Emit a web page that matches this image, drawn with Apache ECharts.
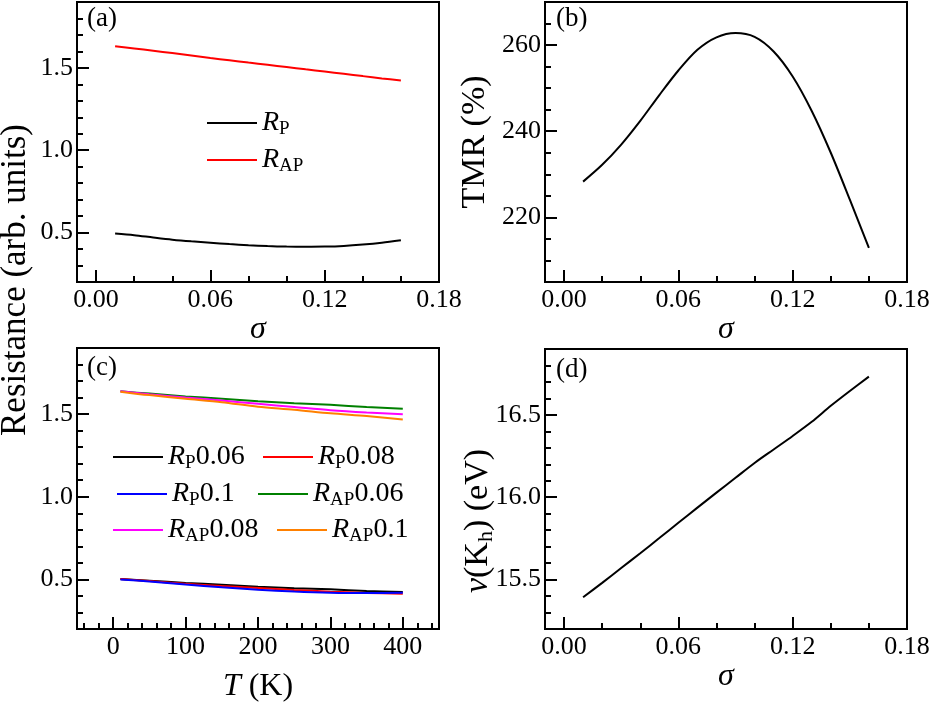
<!DOCTYPE html>
<html>
<head>
<meta charset="utf-8">
<script src="https://cdn.jsdelivr.net/npm/echarts@6/dist/echarts.min.js"></script>
<style>html,body{margin:0;padding:0;background:#fff;}#c{width:934px;height:705px;}</style>
</head>
<body>
<div id="c"></div>
<script>
// ---------- data ----------
const sigma = [0.01,0.02,0.03,0.04,0.05,0.06,0.07,0.08,0.09,0.10,0.11,0.12,0.13,0.14,0.15,0.16];
const rP_a  = [0.494,0.484,0.470,0.457,0.447,0.439,0.430,0.423,0.418,0.415,0.414,0.415,0.419,0.427,0.438,0.453];
const rAP_a = [1.632,1.618,1.604,1.590,1.575,1.560,1.546,1.532,1.519,1.505,1.491,1.478,1.464,1.450,1.436,1.423];
const tmr_b = [228.3,232.2,236.9,242.4,248.4,254.1,258.9,261.8,262.8,261.9,258.5,252.7,244.7,235.0,224.1,212.9];
const vKh_d = [15.393,15.48,15.57,15.66,15.752,15.845,15.937,16.028,16.118,16.208,16.29,16.372,16.458,16.555,16.645,16.732];

const temps = [10,50,100,150,200,250,300,350,400];
const rP006  = [0.502,0.492,0.479,0.468,0.456,0.447,0.440,0.430,0.424];
const rP008  = [0.502,0.490,0.474,0.460,0.448,0.436,0.426,0.418,0.413];
const rP010  = [0.500,0.487,0.469,0.452,0.438,0.427,0.420,0.418,0.419];
const rAP006 = [1.638,1.624,1.607,1.593,1.578,1.566,1.556,1.543,1.532];
const rAP008 = [1.638,1.620,1.600,1.582,1.562,1.543,1.524,1.510,1.499];
const rAP010 = [1.636,1.615,1.593,1.572,1.545,1.527,1.505,1.488,1.467];

// tick values
const sigmaTicks = [0, 0.06, 0.12, 0.18];
const sigmaMinor = [0.02, 0.04, 0.08, 0.10, 0.14, 0.16];
const resTicks = [0.5, 1.0, 1.5];
const resMinor = [0.3,0.4,0.6,0.7,0.8,0.9,1.1,1.2,1.3,1.4,1.6,1.7,1.8];
const tmrTicks = [220, 240, 260];
const tmrMinor = [210,215,225,230,235,245,250,255,265];
const tTicks = [0, 100, 200, 300, 400];
const tMinor = [-40,-20,20,40,60,80,120,140,160,180,220,240,260,280,320,340,360,380,420,440];
const vTicks = [15.5, 16.0, 16.5];
const vMinor = [15.3,15.4,15.6,15.7,15.8,15.9,16.1,16.2,16.3,16.4,16.6,16.7,16.8];

// legend texts
const legendNamesC = ['RP0.06','RP0.08','RP0.1','RAP0.06','RAP0.08','RAP0.1'];
const legendSubC   = ['P','P','P','AP','AP','AP'];
const legendNumC   = ['0.06','0.08','0.1','0.06','0.08','0.1'];
const colorsC      = ['#000000','#ff0000','#0000ff','#008000','#ff00ff','#ff8000'];

// ---------- helpers ----------
const FONT = "'Liberation Serif', 'Times New Roman', serif";
const TICK_FS = 26, NAME_FS = 32;

function xAxes(grid, min, max, majors, minors, fmt, name, nameGap, nameStyle) {
  return [{
    gridIndex: grid, type: 'value', min, max, position: 'bottom',
    axisLine: {show: true, onZero: false, lineStyle: {color: '#000', width: 2}},
    axisTick: {show: true, inside: true, length: 12, lineStyle: {color: '#000', width: 2}, customValues: majors},
    axisLabel: {show: true, customValues: majors, formatter: fmt, margin: 5, color: '#000', fontFamily: FONT, fontSize: TICK_FS},
    splitLine: {show: false},
    name, nameLocation: 'middle', nameGap,
    nameTextStyle: Object.assign({color: '#000', fontFamily: FONT, fontSize: NAME_FS}, nameStyle || {})
  }, {
    gridIndex: grid, type: 'value', min, max, position: 'bottom',
    axisLine: {show: false, onZero: false},
    axisTick: {show: true, inside: true, length: 6, lineStyle: {color: '#000', width: 2}, customValues: minors},
    axisLabel: {show: false}, splitLine: {show: false}
  }];
}
function yAxes(grid, min, max, majors, minors, fmt) {
  return [{
    gridIndex: grid, type: 'value', min, max, position: 'left',
    axisLine: {show: true, onZero: false, lineStyle: {color: '#000', width: 2}},
    axisTick: {show: true, inside: true, length: 12, lineStyle: {color: '#000', width: 2}, customValues: majors},
    axisLabel: {show: true, customValues: majors, formatter: fmt, margin: 4, color: '#000', fontFamily: FONT, fontSize: TICK_FS},
    splitLine: {show: false}
  }, {
    gridIndex: grid, type: 'value', min, max, position: 'left',
    axisLine: {show: false, onZero: false},
    axisTick: {show: true, inside: true, length: 6, lineStyle: {color: '#000', width: 2}, customValues: minors},
    axisLabel: {show: false}, splitLine: {show: false}
  }];
}
function zip(xs, ys) { return xs.map((x, i) => [x, ys[i]]); }
function lineSeries(name, grid, xs, ys, color) {
  return {
    name, type: 'line', xAxisIndex: grid * 2, yAxisIndex: grid * 2,
    data: zip(xs, ys), showSymbol: false, symbol: 'none', smooth: 0.3,
    lineStyle: {color, width: 2}, itemStyle: {color}, silent: true, animation: false
  };
}
const rich = {
  r: {fontFamily: FONT, fontStyle: 'italic', fontSize: 28, lineHeight: 32, color: '#000'},
  s: {fontFamily: FONT, fontSize: 19, lineHeight: 19, verticalAlign: 'bottom', color: '#000'},
  n: {fontFamily: FONT, fontSize: 28, lineHeight: 32, color: '#000'}
};
function legendItem(name, label, left, yc) {
  return {
    data: [name], left, top: yc - 16, padding: 0, itemWidth: 50, itemHeight: 2, icon: 'rect',
    selectedMode: false, itemGap: 0,
    textStyle: {fontFamily: FONT, fontSize: 28, color: '#000', rich},
    formatter: () => label
  };
}
const f2 = v => v.toFixed(2), f1 = v => v.toFixed(1), f0 = v => String(Math.round(v));

const grids = [
  {left: 77, top: 2, width: 362, height: 280},
  {left: 545, top: 2, width: 362, height: 280},
  {left: 77, top: 348, width: 362, height: 281},
  {left: 545, top: 349, width: 362, height: 280}
].map(g => Object.assign({show: true, borderColor: '#000', borderWidth: 2, backgroundColor: 'transparent', containLabel: false}, g));

const xAxis = [].concat(
  xAxes(0, -0.01, 0.18, sigmaTicks, sigmaMinor, f2, 'σ', 28, {fontStyle: 'italic'}),
  xAxes(1, -0.01, 0.18, sigmaTicks, sigmaMinor, f2, 'σ', 28, {fontStyle: 'italic'}),
  xAxes(2, -50, 450, tTicks, tMinor, f0, '{i|T} (K)', 42, {rich: {i: {fontStyle: 'italic', fontFamily: FONT, fontSize: NAME_FS}}}),
  xAxes(3, -0.01, 0.18, sigmaTicks, sigmaMinor, f2, 'σ', 32, {fontStyle: 'italic'})
);
const yAxis = [].concat(
  yAxes(0, 0.2, 1.9, resTicks, resMinor, f1),
  yAxes(1, 205, 270, tmrTicks, tmrMinor, f0),
  yAxes(2, 0.2, 1.9, resTicks, resMinor, f1),
  yAxes(3, 15.2, 16.9, vTicks, vMinor, f1)
);

const series = [
  lineSeries('R_P', 0, sigma, rP_a, '#000000'),
  lineSeries('R_AP', 0, sigma, rAP_a, '#ff0000'),
  lineSeries('TMR', 1, sigma, tmr_b, '#000000'),
  lineSeries(legendNamesC[0], 2, temps, rP006, colorsC[0]),
  lineSeries(legendNamesC[1], 2, temps, rP008, colorsC[1]),
  lineSeries(legendNamesC[2], 2, temps, rP010, colorsC[2]),
  lineSeries(legendNamesC[3], 2, temps, rAP006, colorsC[3]),
  lineSeries(legendNamesC[4], 2, temps, rAP008, colorsC[4]),
  lineSeries(legendNamesC[5], 2, temps, rAP010, colorsC[5]),
  lineSeries('vKh', 3, sigma, vKh_d, '#000000')
];

const lc = legendNamesC.map((n, i) => '{r|R}{s|' + legendSubC[i] + '}{n|' + legendNumC[i] + '}');
const legend = [
  legendItem('R_P', '{r|R}{s|P}', 207, 125),
  legendItem('R_AP', '{r|R}{s|AP}', 207, 162),
  legendItem(legendNamesC[0], lc[0], 113, 459),
  legendItem(legendNamesC[1], lc[1], 263, 459),
  legendItem(legendNamesC[2], lc[2], 117, 496),
  legendItem(legendNamesC[3], lc[3], 258, 496),
  legendItem(legendNamesC[4], lc[4], 113, 532),
  legendItem(legendNamesC[5], lc[5], 277, 532)
];

function panelLabel(t, x, y) {
  return {type: 'text', left: x, top: y, style: {text: t, fontFamily: FONT, fontSize: 27, fill: '#000'}};
}
function yName(text, x, y, fs, richDef) {
  return {type: 'text', x, y, rotation: Math.PI / 2,
    style: {text, fontFamily: FONT, fontSize: fs, fill: '#000', align: 'center', verticalAlign: 'middle', rich: richDef || {}}};
}
const graphic = [
  panelLabel('(a)', 87, 5),
  panelLabel('(b)', 556, 5),
  panelLabel('(c)', 87, 354),
  panelLabel('(d)', 556, 356),
  yName('Resistance (arb. units)', 16, 280, 35),
  yName('TMR (%)', 475, 142, 34),
  yName('{i|v}(K{s|h}) (eV)', 478, 521, 34, {
    i: {fontFamily: FONT, fontStyle: 'italic', fontSize: 34, lineHeight: 38, fill: '#000'},
    s: {fontFamily: FONT, fontSize: 22, lineHeight: 22, verticalAlign: 'bottom', fill: '#000'}
  })
];

const chart = echarts.init(document.getElementById('c'), null, {renderer: 'canvas'});
chart.setOption({animation: false, backgroundColor: '#fff', grid: grids, xAxis, yAxis, series, legend, graphic});
</script>
</body>
</html>
